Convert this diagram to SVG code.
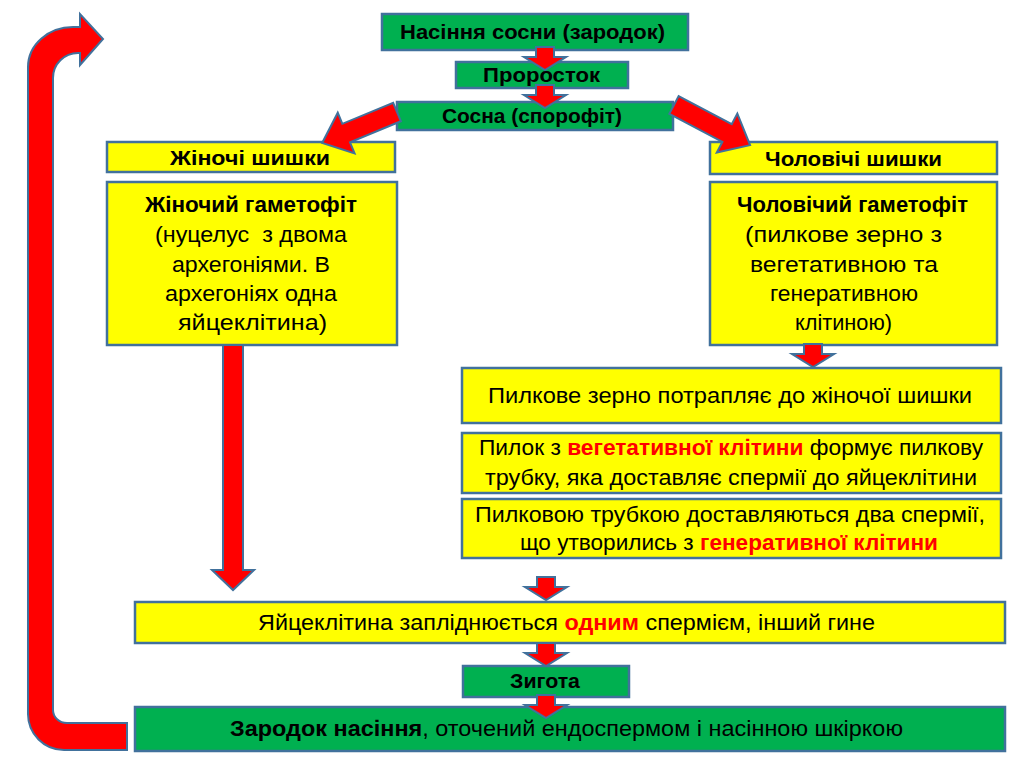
<svg xmlns="http://www.w3.org/2000/svg" width="1022" height="768" viewBox="0 0 1022 768">
<style>
.g{fill:#00B050;stroke:#41719C;stroke-width:2.5}
.y{fill:#FFFF00;stroke:#41719C;stroke-width:2.5}
.ar{fill:#FF0000;stroke:#41719C;stroke-width:2;stroke-linejoin:miter}
text{font-family:"Liberation Sans",Arial,sans-serif;fill:#000}
.t{font-size:20px;font-weight:bold}
.b{font-size:22px}
.bb{font-weight:bold}
.r{fill:#FF0000;font-weight:bold}
</style>
<defs>
<path id="va" d="M-9,0 L9,0 L9,10 L21,10 L0,23 L-21,10 L-9,10 Z"/>
</defs>
<rect width="1022" height="768" fill="#fff"/>

<g id="n-seed">
<rect class="g" x="382" y="14" width="306" height="36"/>
<text class="t" x="400" y="39" textLength="265" lengthAdjust="spacingAndGlyphs">Насіння сосни (зародок)</text>
</g>
<g id="n-sprout">
<rect class="g" x="456" y="62" width="172" height="26"/>
<text class="t" x="483" y="82" textLength="117" lengthAdjust="spacingAndGlyphs">Проросток</text>
</g>
<g id="n-pine">
<rect class="g" x="397" y="102" width="276" height="28"/>
<text class="t" x="442" y="123" textLength="180" lengthAdjust="spacingAndGlyphs">Сосна (спорофіт)</text>
</g>
<g id="n-female-cones">
<rect class="y" x="107" y="142" width="288" height="30"/>
<text class="t" x="170" y="165" textLength="160" lengthAdjust="spacingAndGlyphs">Жіночі шишки</text>
</g>
<g id="n-male-cones">
<rect class="y" x="710" y="142" width="287" height="32"/>
<text class="t" x="765" y="166" textLength="177" lengthAdjust="spacingAndGlyphs">Чоловічі шишки</text>
</g>
<g id="n-female-gam">
<rect class="y" x="107" y="182" width="290" height="163"/>
<text class="b bb" x="145" y="212" textLength="212" lengthAdjust="spacingAndGlyphs">Жіночий гаметофіт</text>
<text class="b" x="155" y="242" textLength="192" lengthAdjust="spacingAndGlyphs" xml:space="preserve">(нуцелус  з двома</text>
<text class="b" x="172" y="272" textLength="158" lengthAdjust="spacingAndGlyphs">архегоніями. В</text>
<text class="b" x="165" y="301" textLength="172" lengthAdjust="spacingAndGlyphs">архегоніях одна</text>
<text class="b" x="178" y="330" textLength="149" lengthAdjust="spacingAndGlyphs">яйцеклітина)</text>
</g>
<g id="n-male-gam">
<rect class="y" x="710" y="182" width="287" height="163"/>
<text class="b bb" x="737" y="212" textLength="231" lengthAdjust="spacingAndGlyphs">Чоловічий гаметофіт</text>
<text class="b" x="745" y="242" textLength="197" lengthAdjust="spacingAndGlyphs">(пилкове зерно з</text>
<text class="b" x="750" y="272" textLength="188" lengthAdjust="spacingAndGlyphs">вегетативною та</text>
<text class="b" x="770" y="301" textLength="148" lengthAdjust="spacingAndGlyphs">генеративною</text>
<text class="b" x="795" y="330" textLength="97" lengthAdjust="spacingAndGlyphs">клітиною)</text>
</g>
<g id="n-pollen">
<rect class="y" x="462" y="368" width="539" height="55"/>
<text class="b" x="488" y="403" textLength="484" lengthAdjust="spacingAndGlyphs">Пилкове зерно потрапляє до жіночої шишки</text>
</g>
<g id="n-tube">
<rect class="y" x="462" y="433" width="539" height="60"/>
<text class="b" x="479" y="455" textLength="504" lengthAdjust="spacingAndGlyphs">Пилок з <tspan class="r">вегетативної клітини</tspan> формує пилкову</text>
<text class="b" x="485" y="485" textLength="492" lengthAdjust="spacingAndGlyphs">трубку, яка доставляє спермії до яйцеклітини</text>
</g>
<g id="n-sperm">
<rect class="y" x="462" y="499" width="539" height="59"/>
<text class="b" x="475" y="522" textLength="510" lengthAdjust="spacingAndGlyphs">Пилковою трубкою доставляються два спермії,</text>
<text class="b" x="520" y="550" textLength="418" lengthAdjust="spacingAndGlyphs">що утворились з <tspan class="r">генеративної клітини</tspan></text>
</g>
<g id="n-fert">
<rect class="y" x="135" y="602" width="870" height="41"/>
<text class="b" x="258" y="630" textLength="617" lengthAdjust="spacingAndGlyphs">Яйцеклітина запліднюється <tspan class="r">одним</tspan> спермієм, інший гине</text>
</g>
<g id="n-zygote">
<rect class="g" x="463" y="666" width="166" height="31"/>
<text class="t" x="510" y="688" textLength="70" lengthAdjust="spacingAndGlyphs">Зигота</text>
</g>
<g id="n-embryo">
<rect class="g" x="135" y="707" width="870" height="44"/>
<text class="b" x="230" y="736" textLength="673" lengthAdjust="spacingAndGlyphs"><tspan class="bb">Зародок насіння</tspan>, оточений ендоспермом і насінною шкіркою</text>
</g>

<g id="connectors">
<use href="#va" class="ar" x="545" y="47"/>
<use href="#va" class="ar" x="545" y="85"/>
<path class="ar" transform="translate(397,112) rotate(157.5)" d="M0,-10 L55,-10 L55,-22 L81,0 L55,22 L55,10 L0,10 Z"/>
<path class="ar" transform="translate(674,105) rotate(27.8)" d="M0,-10 L60,-10 L60,-22 L86,0 L60,22 L60,10 L0,10 Z"/>
<path class="ar" d="M223,345 L243,345 L243,570 L254,570 L233,590 L212,570 L223,570 Z"/>
<use href="#va" class="ar" x="813" y="344"/>
<use href="#va" class="ar" x="546" y="577"/>
<use href="#va" class="ar" x="546" y="643"/>
<use href="#va" class="ar" x="546" y="695"/>
<path class="ar" d="M127,750 L64,750 A36,36 0 0 1 28,714 L28,67 A45,40 0 0 1 73,27 L80,27 L80,14 L103,39 L80,65 L80,53 L78,53 A25,25 0 0 0 53,78 L53,710 A14,13 0 0 0 67,723 L127,723 Z"/>
</g>
</svg>
